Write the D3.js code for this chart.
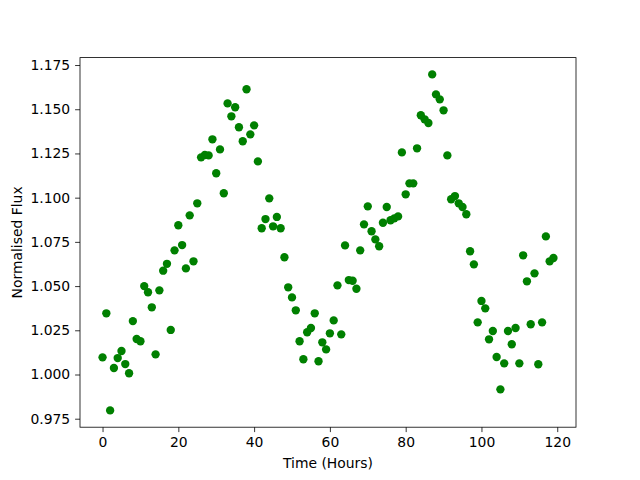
<!DOCTYPE html>
<html>
<head>
<meta charset="utf-8">
<script src="https://cdn.jsdelivr.net/npm/d3@7"></script>
<style>
    body { margin: 0; background: #fff; }
    text { font-family: "DejaVu Sans", sans-serif; }
</style>
</head>
<body>
<svg id="vis-svg"></svg>
<script>
// hourly samples, 0..119
const hours = d3.range(0, 120);
const flux = [
    1.0097, 1.0346, 0.9797, 1.0037, 1.0093, 1.0133, 1.0059, 1.0007, 1.0302, 1.0201,
    1.0188, 1.0500, 1.0465, 1.0380, 1.0114, 1.0476, 1.0587, 1.0626, 1.0252, 1.0702,
    1.0844, 1.0732, 1.0600, 1.0900, 1.0640, 1.0968, 1.1228, 1.1241, 1.1239, 1.1330,
    1.1138, 1.1273, 1.1025, 1.1533, 1.1460, 1.1511, 1.1398, 1.1319, 1.1613, 1.1358,
    1.1409, 1.1205, 1.0827, 1.0879, 1.0996, 1.0838, 1.0891, 1.0827, 1.0663, 1.0493,
    1.0436, 1.0363, 1.0188, 1.0086, 1.0239, 1.0263, 1.0346, 1.0075, 1.0182, 1.0142,
    1.0233, 1.0306, 1.0504, 1.0227, 1.0730, 1.0534, 1.0530, 1.0485, 1.0702, 1.0849,
    1.0951, 1.0810, 1.0764, 1.0725, 1.0858, 1.0947, 1.0872, 1.0883, 1.0894, 1.1256,
    1.1019, 1.1081, 1.1081, 1.1279, 1.1466, 1.1443, 1.1422, 1.1697, 1.1584, 1.1556,
    1.1494, 1.1239, 1.0991, 1.1009, 1.0968, 1.0947, 1.0906, 1.0697, 1.0623, 1.0295,
    1.0416, 1.0374, 1.0199, 1.0246, 1.0099, 0.9916, 1.0063, 1.0246, 1.0171, 1.0263,
    1.0063, 1.0674, 1.0527, 1.0284, 1.0572, 1.0058, 1.0295, 1.0781, 1.0640, 1.0659
];
const xTicks = [0, 20, 40, 60, 80, 100, 120];
const yTicks = [0.975, 1.000, 1.025, 1.050, 1.075, 1.100, 1.125, 1.150, 1.175];

const width = 640, height = 480;
const margin = {top: 57.6, right: 64, bottom: 52.8, left: 80};

let svg = d3.select("#vis-svg")
    .attr("width", width)
    .attr("height", height);

// matplotlib style 5% padding on the data range
const pad = ([lo, hi]) => [lo - (hi - lo) * 0.05, hi + (hi - lo) * 0.05];

let xScale = d3.scaleLinear()
    .domain(pad(d3.extent(hours)))
    .range([margin.left, width - margin.right]);

let yScale = d3.scaleLinear()
    .domain(pad(d3.extent(flux)))
    .range([height - margin.bottom, margin.top]);

let xAxis = d3.axisBottom(xScale)
    .tickValues(xTicks)
    .tickSize(4.9)
    .tickPadding(4.9)
    .tickFormat(d3.format("d"));

let yAxis = d3.axisLeft(yScale)
    .tickValues(yTicks)
    .tickSize(4.9)
    .tickPadding(4.9)
    .tickFormat(d3.format(".3f"));

svg.append("g")
    .attr("class", "xAxis")
    .attr("transform", `translate(0, ${height - margin.bottom})`)
    .call(xAxis);

svg.append("g")
    .attr("class", "yAxis")
    .attr("transform", `translate(${margin.left}, 0)`)
    .call(yAxis);

svg.selectAll(".domain").remove();
svg.selectAll(".tick line").attr("stroke", "#000").attr("stroke-width", 0.8);
svg.selectAll(".tick text")
    .attr("fill", "#000")
    .style("font-size", "13.9px")
    .style("font-family", "'DejaVu Sans', sans-serif");

// points
svg.append("g")
    .selectAll("circle")
    .data(hours)
    .enter()
        .append("circle")
        .attr("cx", d => xScale(d))
        .attr("cy", (d, i) => yScale(flux[i]))
        .attr("r", 4.17)
        .style("fill", "#008000");

// axes frame
svg.append("rect")
    .attr("x", margin.left)
    .attr("y", margin.top)
    .attr("width", width - margin.left - margin.right)
    .attr("height", height - margin.top - margin.bottom)
    .attr("fill", "none")
    .attr("stroke", "#000")
    .attr("stroke-width", 0.8);

svg.append("text")
    .attr("x", (margin.left + width - margin.right) / 2)
    .attr("y", 468)
    .attr("text-anchor", "middle")
    .style("font-size", "13.9px")
    .text("Time (Hours)");

svg.append("text")
    .attr("transform", `translate(22, ${(margin.top + height - margin.bottom) / 2}) rotate(-90)`)
    .attr("text-anchor", "middle")
    .style("font-size", "13.9px")
    .text("Normalised Flux");
</script>
</body>
</html>
